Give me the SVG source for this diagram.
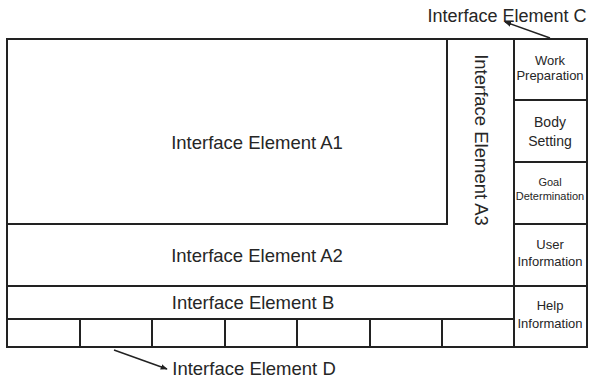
<svg xmlns="http://www.w3.org/2000/svg" width="589" height="382" viewBox="0 0 589 382">
  <style>
    .box { fill: #ffffff; stroke: #222222; stroke-width: 2; }
    .edge { stroke: #222222; stroke-width: 2; fill: none; }
    .lbl { font-family: "Liberation Sans", Arial, sans-serif; fill: #262626; text-anchor: middle; }
    .big { font-size: 18.5px; }
    .sm { font-size: 13px; }
    .conn { stroke: #222222; stroke-width: 1.5; fill: none; marker-end: url(#arrow); }
  </style>
  <defs>
    <marker id="arrow" viewBox="0 0 10 10" refX="9" refY="5" markerWidth="7" markerHeight="7" orient="auto" markerUnits="userSpaceOnUse">
      <path d="M0,1 L10,5 L0,9 z" fill="#222222"/>
    </marker>
  </defs>
  <rect width="589" height="382" fill="#ffffff"/>

  <!-- outer frame -->
  <g id="frame">
    <rect class="box" x="7" y="39" width="580" height="308"/>
  </g>

  <g id="elementA1">
    <rect class="box" x="7" y="39" width="440" height="185"/>
    <text class="lbl big" x="257" y="149">Interface Element A1</text>
  </g>

  <!-- A2 and A3 share one L-shaped area below and beside A1 -->
  <g id="elementA3">
    <text class="lbl big" transform="translate(475,140) rotate(90)">Interface Element A3</text>
  </g>

  <g id="elementA2">
    <text class="lbl big" x="257" y="262">Interface Element A2</text>
  </g>

  <g id="elementB">
    <rect class="box" x="7" y="286" width="507" height="33"/>
    <text class="lbl big" x="253" y="309">Interface Element B</text>
  </g>

  <g id="elementD">
    <rect class="box" x="7" y="319" width="73" height="28"/>
    <rect class="box" x="80" y="319" width="72" height="28"/>
    <rect class="box" x="152" y="319" width="73" height="28"/>
    <rect class="box" x="225" y="319" width="72" height="28"/>
    <rect class="box" x="297" y="319" width="73" height="28"/>
    <rect class="box" x="370" y="319" width="72" height="28"/>
    <rect class="box" x="442" y="319" width="72" height="28"/>
  </g>

  <g id="workPreparation">
    <rect class="box" x="514" y="39" width="73" height="61"/>
    <text class="lbl sm" x="550" y="65">Work</text>
    <text class="lbl sm" x="550" y="80">Preparation</text>
  </g>

  <g id="bodySetting">
    <rect class="box" x="514" y="100" width="73" height="62"/>
    <text class="lbl" style="font-size:14px" x="550" y="127">Body</text>
    <text class="lbl" style="font-size:14px" x="550" y="146">Setting</text>
  </g>

  <g id="goalDetermination">
    <rect class="box" x="514" y="162" width="73" height="62"/>
    <text class="lbl" style="font-size:11px" x="550" y="186">Goal</text>
    <text class="lbl" style="font-size:11px" x="550" y="200">Determination</text>
  </g>

  <g id="userInformation">
    <rect class="box" x="514" y="224" width="73" height="62"/>
    <text class="lbl sm" x="550" y="249">User</text>
    <text class="lbl sm" x="550" y="266">Information</text>
  </g>

  <g id="helpInformation">
    <rect class="box" x="514" y="286" width="73" height="61"/>
    <text class="lbl sm" x="550" y="310">Help</text>
    <text class="lbl sm" x="550" y="328">Information</text>
  </g>

  <g id="labelC">
    <text class="lbl" style="font-size:18px" x="507" y="22">Interface Element C</text>
  </g>

  <g id="labelD">
    <text class="lbl big" x="254" y="375">Interface Element D</text>
  </g>

  <g id="connectors">
    <line class="conn" x1="550" y1="38" x2="505" y2="22"/>
    <line class="conn" x1="114" y1="350" x2="167" y2="369"/>
  </g>
</svg>
